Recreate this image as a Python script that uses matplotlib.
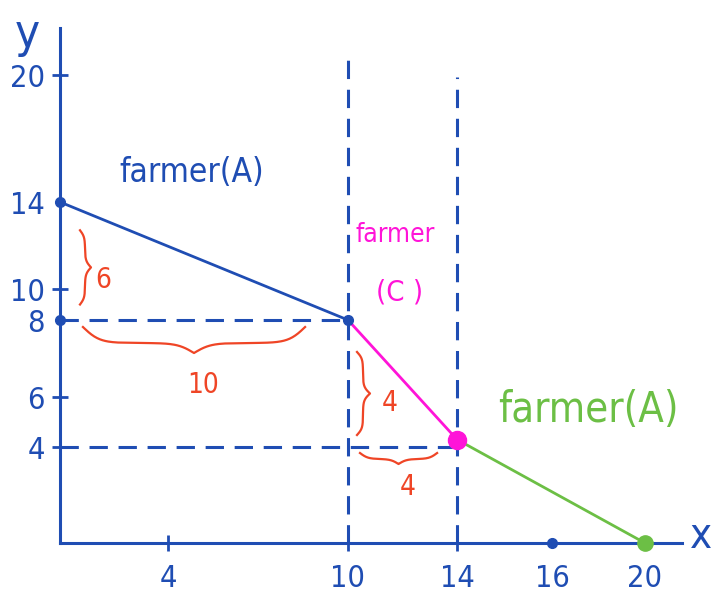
import numpy as np
import matplotlib.pyplot as plt
from matplotlib.transforms import IdentityTransform

BLUE = '#1f4db3'
MAGENTA = '#ff14d8'
GREEN = '#6cbf45'
RED = '#ef4526'
HAND = dict(family='DejaVu Sans', fontstretch='condensed')

# data
x_ticks = [4, 10, 14, 16, 20]
y_ticks = [4, 6, 8, 10, 14, 20]
kink_x = [0, 10, 14, 20]
kink_y = [14, 8, 4.3, 0]
seg_colors = [BLUE, MAGENTA, GREEN]
axis_dots_x = [0, 0, 16]
axis_dots_y = [14, 8, 0]
guide_y = [8, 4]      # horizontal dashed lines, run to x = 10 / 14
guide_x = [10, 14]

# the sketch is not drawn to scale: value -> pixel distance from the origin
x_anchor = [-3, 0, 4, 10, 14, 16, 20, 24]
x_px = [-81, 0, 108, 288, 397, 492, 585, 678]
y_anchor = [-3, 0, 4, 6, 8, 10, 14, 20, 25]
y_px = [-72, 0, 96, 146, 223, 254, 341, 468, 574]

fig = plt.figure(figsize=(7.11, 5.99), dpi=100)
ax = fig.add_axes([0, 0, 1, 1])
ax.set_xscale('function', functions=(lambda v: np.interp(v, x_anchor, x_px),
                                     lambda p: np.interp(p, x_px, x_anchor)))
ax.set_yscale('function', functions=(lambda v: np.interp(v, y_anchor, y_px),
                                     lambda p: np.interp(p, y_px, y_anchor)))
ax.set_xlim(-2.222, 22.839)
ax.set_ylim(-2.333, 23.538)
ax.set_autoscale_on(False)

# axes drawn like the sketch
for s in ['top', 'right']:
    ax.spines[s].set_visible(False)
ax.spines['left'].set_position(('data', 0))
ax.spines['bottom'].set_position(('data', 0))
ax.spines['left'].set_bounds(0, 22.2)
ax.spines['bottom'].set_bounds(0, 21.6)
for s in ['left', 'bottom']:
    ax.spines[s].set_color(BLUE)
    ax.spines[s].set_linewidth(2.2)
ax.set_xticks(x_ticks, [str(v) for v in x_ticks])
ax.set_yticks(y_ticks, [str(v) for v in y_ticks])
ax.tick_params(axis='both', direction='inout', length=12, width=2, color=BLUE,
               labelcolor=BLUE, labelsize=22)
ax.tick_params(axis='x', pad=9)
ax.tick_params(axis='y', pad=5)
for lab in ax.get_xticklabels() + ax.get_yticklabels():
    lab.set_fontstretch('condensed')
ax.minorticks_off()
# where the sketch has a dot on the axis there is no tick stroke
for v, t in zip(x_ticks, ax.xaxis.get_major_ticks()):
    if v in (16, 20):
        t.tick1line.set_visible(False)
for v, t in zip(y_ticks, ax.yaxis.get_major_ticks()):
    if v in (8, 14):
        t.tick1line.set_visible(False)

# dashed guides
ax.plot([0, guide_x[0]], [guide_y[0], guide_y[0]], '--', color=BLUE, lw=2.2, dashes=(6, 3.5))
ax.plot([0, guide_x[1]], [guide_y[1], guide_y[1]], '--', color=BLUE, lw=2.2, dashes=(6, 3.5))
ax.plot([guide_x[0], guide_x[0]], [0, 20.85], '--', color=BLUE, lw=2.2, dashes=(6, 3.5))
ax.plot([guide_x[1], guide_x[1]], [0, 19.9], '--', color=BLUE, lw=2.2, dashes=(6, 3.5))

# frontier, one colour per farmer
for i in range(3):
    ax.plot(kink_x[i:i + 2], kink_y[i:i + 2], color=seg_colors[i], lw=2, zorder=3)
ax.plot(axis_dots_x, axis_dots_y, 'o', color=BLUE, ms=7, zorder=4)
ax.plot(kink_x[1], kink_y[1], 'o', color=BLUE, ms=7, zorder=4)
ax.plot(kink_x[2], kink_y[2], 'o', color=MAGENTA, ms=13, zorder=4)
ax.plot(kink_x[3], kink_y[3], 'o', color=GREEN, ms=11, zorder=4)


def brace(p0, p1, offset, plateau, tip, beta=0.2):
    # curly brace between two data points, bulging to the left of p0 -> p1
    a = ax.transData.transform(p0)
    b = ax.transData.transform(p1)
    d = b - a
    L = np.hypot(*d)
    u = d / L
    n = np.array([-u[1], u[0]])
    s = np.linspace(0, L / 2, 80)
    h = plateau * 2 * (1 / (1 + np.exp(-beta * s)) - 0.5) + tip * 2 / (1 + np.exp(-beta * (s - L / 2)))
    prof = np.concatenate([h, h[-2::-1]])
    ss = np.concatenate([s, L - s[-2::-1]])
    pts = a + np.outer(ss, u) + np.outer(offset + prof, n)
    ax.plot(pts[:, 0], pts[:, 1], color=RED, lw=1.6, transform=IdentityTransform())


brace((0, 12.7), (0, 9.0), 20, 5, 6, beta=0.3)
brace((8.57, 8), (0.85, 8), 7, 16, 10, beta=0.12)
brace((10, 7.17), (10, 4.48), 9, 6, 7, beta=0.3)
brace((13.27, 4), (10.44, 4), 6, 6, 5, beta=0.25)

ax.text(1.6, 10.4, '6', color=RED, fontsize=20, ha='center', va='center', **HAND)
ax.text(5.17, 6.3, '10', color=RED, fontsize=20, ha='center', va='center', **HAND)
ax.text(11.54, 5.76, '4', color=RED, fontsize=20, ha='center', va='center', **HAND)
ax.text(12.2, 2.33, '4', color=RED, fontsize=20, ha='center', va='center', **HAND)

ax.text(4.8, 15.4, 'farmer(A)', color=BLUE, fontsize=24, ha='center', va='center', **HAND)
ax.text(11.72, 12.5, 'farmer', color=MAGENTA, fontsize=19, ha='center', va='center', **HAND)
ax.text(11.9, 9.8, '(C )', color=MAGENTA, fontsize=21, ha='center', va='center', **HAND)
ax.text(17.55, 5.5, 'farmer(A)', color=GREEN, fontsize=30, ha='center', va='center', **HAND)

ax.text(-1.2, 21.9, 'y', color=BLUE, fontsize=34, ha='center', va='center', **HAND)
ax.text(22.4, 0.3, 'x', color=BLUE, fontsize=30, ha='center', va='center', **HAND)

fig.savefig('out.png', dpi=100)
